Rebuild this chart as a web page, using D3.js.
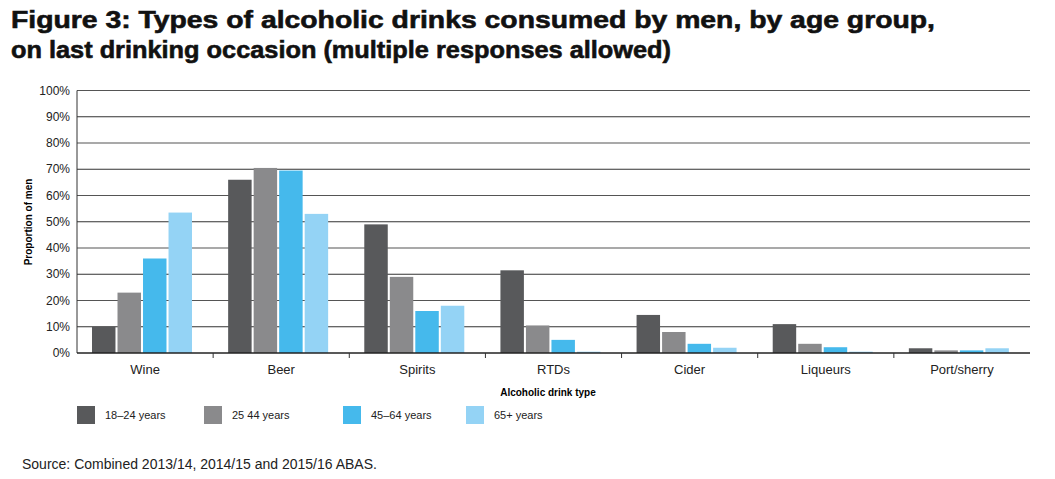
<!DOCTYPE html>
<html><head><meta charset="utf-8">
<script src="https://cdn.jsdelivr.net/npm/d3@7"></script>
<style>body{margin:0;background:#fff;font-family:"Liberation Sans",Arial,sans-serif}</style>
</head><body><svg width="1055" height="479"></svg>
<script>
const categories = ["Wine","Beer","Spirits","RTDs","Cider","Liqueurs","Port/sherry"]
const ageGroups = ["18–24 years","25  44 years","45–64 years","65+ years"]
const colors = ["#58595b","#8a8a8c","#45b9ec","#94d3f5"]
const age18 = [10, 66, 49, 31.5, 14.5, 11, 1.8]
const age25 = [23, 70.5, 29, 10.5, 8, 3.5, 1]
const age45 = [36, 69.5, 16, 5, 3.5, 2.2, 1]
const age65 = [53.5, 53, 18, 0.5, 2, 0.5, 1.8]
const series = [age18, age25, age45, age65]
const yTicks = [0,10,20,30,40,50,60,70,80,90,100]

const svg = d3.select("svg")
svg.append("text").attr("x",11).attr("y",28).attr("font-size",24).attr("font-weight","900")
  .attr("fill","#111").attr("stroke","#111").attr("stroke-width",0.6)
  .attr("textLength",924).attr("lengthAdjust","spacingAndGlyphs")
  .text("Figure 3: Types of alcoholic drinks consumed by men, by age group,")
svg.append("text").attr("x",11).attr("y",58).attr("font-size",24).attr("font-weight","900")
  .attr("fill","#111").attr("stroke","#111").attr("stroke-width",0.6)
  .attr("textLength",660).attr("lengthAdjust","spacingAndGlyphs")
  .text("on last drinking occasion (multiple responses allowed)")

const x = d3.scaleBand().domain(categories).range([77,1030])
const y = d3.scaleLinear().domain([0,100]).range([353,90.5])

svg.selectAll(".grid").data(yTicks.slice(1)).join("line")
  .attr("x1",77).attr("x2",1030).attr("y1",d=>y(d)).attr("y2",d=>y(d))
  .attr("stroke",(d,i)=>i%2?"#555":"#333").attr("stroke-width",1.2)
svg.append("line").attr("x1",77).attr("x2",77).attr("y1",y(100)).attr("y2",353).attr("stroke","#333")

svg.selectAll(".yl").data(yTicks).join("text")
  .attr("x",70).attr("y",d=>y(d)+4).attr("text-anchor","end").attr("font-size",12).attr("fill","#222")
  .text(d=>d+"%")

const xb = d3.scaleBand().domain(d3.range(4)).range([0,100]).paddingInner(0.08)
series.forEach((s,k)=>{
  svg.selectAll(".b"+k).data(s).join("rect")
    .attr("x",(d,i)=>x(categories[i])+15+xb(k)).attr("width",xb.bandwidth())
    .attr("y",d=>y(d)).attr("height",d=>353-y(d)).attr("fill",colors[k])
})

svg.append("line").attr("x1",77).attr("x2",1030).attr("y1",353).attr("y2",353).attr("stroke","#222").attr("stroke-width",1.5)
svg.selectAll(".tk").data(categories.slice(1)).join("line")
  .attr("x1",d=>x(d)).attr("x2",d=>x(d)).attr("y1",353).attr("y2",358).attr("stroke","#333")
svg.selectAll(".xl").data(categories).join("text")
  .attr("x",d=>x(d)+x.bandwidth()/2).attr("y",374).attr("text-anchor","middle").attr("font-size",13).attr("fill","#222")
  .text(d=>d)
svg.append("text").attr("x",548).attr("y",396).attr("text-anchor","middle").attr("font-size",10).attr("font-weight","bold").text("Alcoholic drink type")
svg.append("text").attr("transform","translate(32,222) rotate(-90)").attr("text-anchor","middle")
  .attr("font-size",10).attr("font-weight","bold").text("Proportion of men")

const lx = [77,204,343,466]
ageGroups.forEach((g,k)=>{
  svg.append("rect").attr("x",lx[k]).attr("y",406).attr("width",18).attr("height",18).attr("fill",colors[k])
  svg.append("text").attr("x",lx[k]+28).attr("y",419).attr("font-size",11).attr("fill","#222").text(g)
})
svg.append("text").attr("x",22).attr("y",469).attr("font-size",14).attr("fill","#222")
  .text("Source: Combined 2013/14, 2014/15 and 2015/16 ABAS.")
</script></body></html>
